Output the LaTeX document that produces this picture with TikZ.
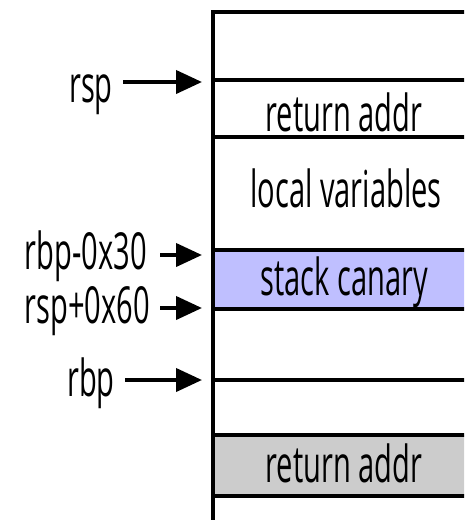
\documentclass[tikz,border=0pt]{standalone}
\usepackage{fontspec}
\setmainfont{Open Sans}[FakeStretch=0.57]
\usetikzlibrary{arrows.meta}
\definecolor{canary}{RGB}{191,191,255}
\definecolor{retgray}{RGB}{204,204,204}
\begin{document}
\begin{tikzpicture}[x=1pt,y=-1pt,
  rowline/.style={line width=4.5pt, line cap=rect},
  celltext/.style={font=\fontsize{51}{60}\selectfont, inner sep=0pt, anchor=base, text=black},
  lbl/.style={font=\fontsize{51}{60}\selectfont, inner sep=0pt, anchor=base east, text=black},
  ptr/.style={line width=4pt, -{Triangle[length=26pt,width=23pt]}}]
\useasboundingbox (0,0) rectangle (464,520);
\clip (0,0) rectangle (464,520);
% fills
\fill[canary] (213,250) rectangle (480,309);
\fill[retgray] (213,435) rectangle (480,496);
% row lines
\draw[rowline] (213,12) -- (480,12);
\draw[rowline] (213,80) -- (480,80);
\draw[rowline] (213,137) -- (480,137);
\draw[rowline] (213,250) -- (480,250);
\draw[rowline] (213,309) -- (480,309);
\draw[rowline] (213,380) -- (480,380);
\draw[rowline] (213,435) -- (480,435);
\draw[rowline] (213,496) -- (480,496);
% left border
\draw[line width=4.5pt] (213,10) -- (213,530);
% cell texts
\node[celltext] (ret1) at (344,131) {return addr};
\node[celltext] (locals) at (346,207) {local variables};
\node[celltext] (canarytxt) at (344,295) {stack canary};
\node[celltext] (ret2) at (344,482) {return addr};
% labels
\node[lbl] (rsp) at (113,102) {rsp};
\node[lbl] (rbpm) at (147,269) {rbp-0x30};
\node[lbl] (rspp) at (150,323) {rsp+0x60};
\node[lbl] (rbp) at (115,396) {rbp};
% targets
\coordinate (trsp) at (202,82);
\coordinate (trbpm) at (202,255);
\coordinate (trspp) at (202,308);
\coordinate (trbp) at (202,380);
\coordinate (srsp) at (123,82);
\coordinate (srbpm) at (160,255);
\coordinate (srspp) at (160,308);
\coordinate (srbp) at (125,380);
\draw[ptr] (srsp) -- (trsp);
\draw[ptr] (srbpm) -- (trbpm);
\draw[ptr] (srspp) -- (trspp);
\draw[ptr] (srbp) -- (trbp);
\end{tikzpicture}
\end{document}
